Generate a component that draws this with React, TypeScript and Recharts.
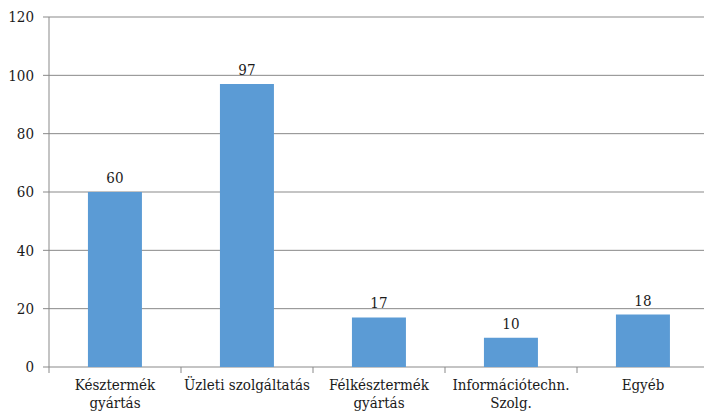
import { BarChart, Bar, XAxis, YAxis, CartesianGrid, LabelList } from "recharts";

const categories = [
  "Késztermék\ngyártás",
  "Üzleti szolgáltatás",
  "Félkésztermék\ngyártás",
  "Információtechn.\nSzolg.",
  "Egyéb",
];
const values = [60, 97, 17, 10, 18];
const yTicks = [0, 20, 40, 60, 80, 100, 120];

const data = categories.map((name, i) => ({ name, value: values[i] }));

const FONT = "DejaVu Serif Condensed, DejaVu Serif";
const GRID = "#898989";
const INK = "#1a1a1a";

// category label plus the little tick marks that sit on the band edges
function CategoryTick({ x, y, payload, index, visibleTicksCount, width }: any) {
  const lines = String(payload.value).split("\n");
  const half = width / visibleTicksCount / 2;
  const axisY = y - 8;
  return (
    <g>
      <line x1={x - half} x2={x - half} y1={axisY} y2={axisY + 6} stroke={GRID} />
      {index === visibleTicksCount - 1 && (
        <line x1={x + half} x2={x + half} y1={axisY} y2={axisY + 6} stroke={GRID} />
      )}
      <text
        x={x}
        y={y}
        textAnchor="middle"
        fontFamily={FONT}
        fontStretch="condensed"
        fontSize={15}
        fill={INK}
      >
        {lines.map((line, i) => (
          <tspan key={i} x={x} dy={i === 0 ? 15 : 18}>
            {line}
          </tspan>
        ))}
      </text>
    </g>
  );
}

export default function App() {
  return (
    <div style={{ position: "absolute", left: 0, top: 0, width: 704, height: 415, overflow: "hidden" }}>
      <BarChart
        width={712}
        height={415}
        data={data}
        margin={{ top: 17, right: 3, bottom: 0, left: 0 }}
        barCategoryGap="29.5%"
      >
        <CartesianGrid vertical={false} stroke={GRID} />
        <XAxis
          dataKey="name"
          height={48}
          axisLine={false}
          tickLine={false}
          tick={<CategoryTick />}
          interval={0}
        />
        <YAxis
          width={49}
          domain={[0, 120]}
          ticks={yTicks}
          tickSize={6}
          tickMargin={9}
          axisLine={{ stroke: GRID }}
          tickLine={{ stroke: GRID }}
          tick={{ fontFamily: FONT, fontStretch: "condensed", fontSize: 15, fill: INK }}
        />
        <Bar dataKey="value" fill="#5b9bd5" isAnimationActive={false}>
          <LabelList
            dataKey="value"
            position="top"
            offset={9}
            fontFamily={FONT}
            fontStretch="condensed"
            fontSize={15}
            fill={INK}
          />
        </Bar>
      </BarChart>
    </div>
  );
}
